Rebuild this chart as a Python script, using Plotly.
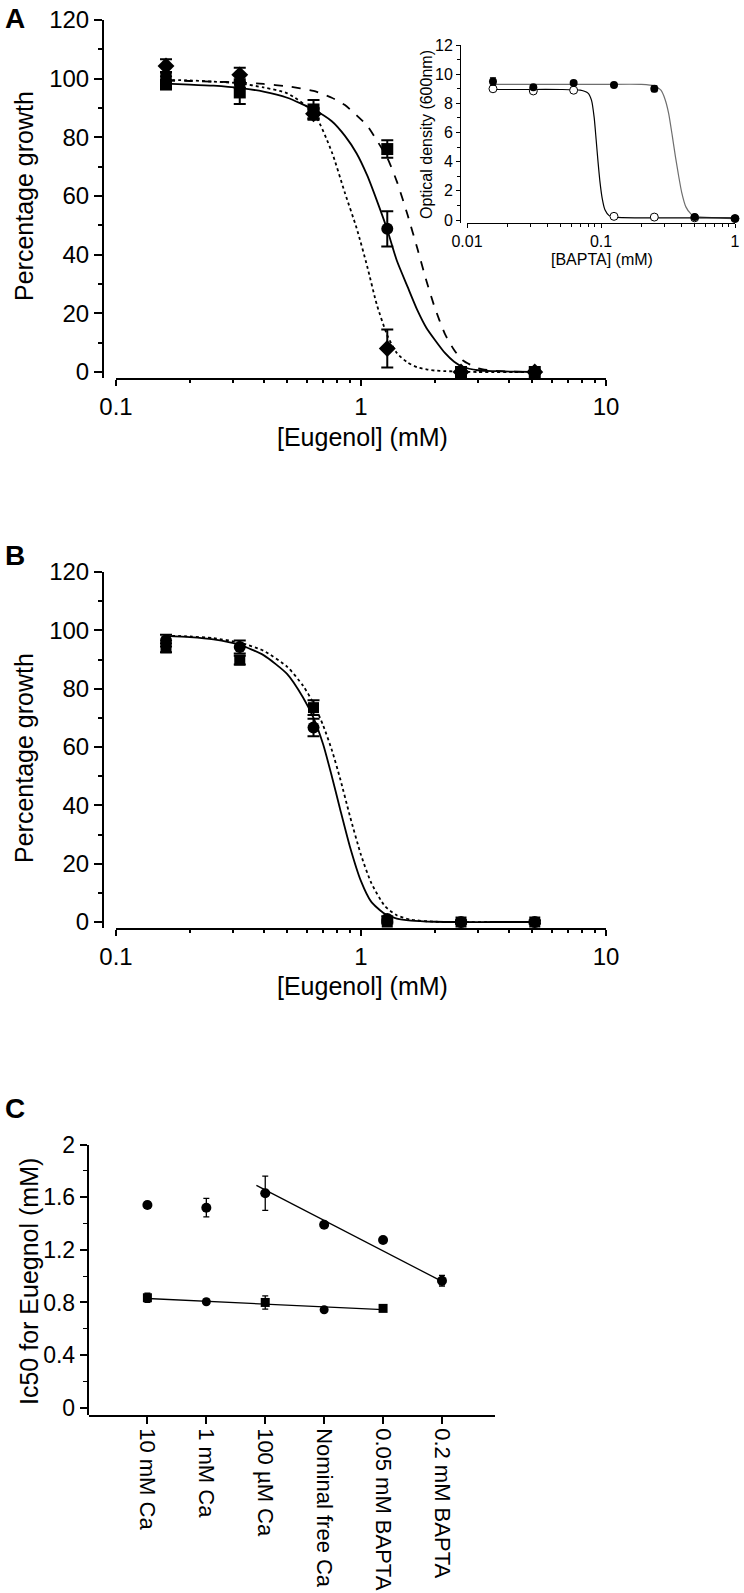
import plotly.graph_objects as go

W, H = 744, 1593
def px(x): return x / W
def py(y): return 1 - y / H

FONT = "Liberation Sans, Arial, sans-serif"

# ---------------- Panel A (main) ----------------
eug_conc = [0.16, 0.32, 0.64, 1.28, 2.56, 5.12]
a_square = [98.0, 95.3, 89.5, 76.0, 0.0, 0.0]
a_square_err = [1.5, 3.9, 3.2, 3.0, 0.5, 0.5]
a_circle = [100.8, 98.3, 88.0, 48.8, 0.0, 0.0]
a_circle_err = [1.5, 1.5, 2.0, 6.0, 0.3, 0.3]
a_diamond = [104.3, 101.3, 88.0, 8.0, 0.0, 0.0]
a_diamond_err = [2.3, 2.4, 1.5, 6.5, 0.3, 0.3]

a_fit_x = [0.16, 0.2, 0.25, 0.32, 0.4, 0.5, 0.64, 0.76, 0.86, 0.96, 1.06, 1.16,
           1.28, 1.4, 1.55, 1.7, 1.85, 2.0, 2.2, 2.4, 2.6, 3.0, 3.5, 4.2, 5.12]
a_fit_solid = [98.3, 98.0, 97.6, 96.8, 95.6, 93.5, 89.5, 85.5, 80.5, 74.5, 67.0, 58.5,
               48.5, 38.0, 29.0, 21.0, 15.0, 11.0, 6.5, 3.5, 1.8, 0.6, 0.3, 0.1, 0.0]
a_fit_dashed = [99.3, 99.2, 99.0, 98.7, 98.2, 97.4, 95.8, 93.5, 91.0, 87.5, 84.0, 79.0,
                73.0, 65.0, 53.5, 42.0, 31.0, 22.0, 13.0, 7.5, 4.0, 1.3, 0.4, 0.1, 0.0]
a_fit_dotted = [99.6, 99.4, 99.0, 98.4, 97.0, 95.0, 88.5, 75.0, 61.0, 49.0, 36.0, 23.0,
                12.5, 6.5, 3.2, 1.6, 0.9, 0.5, 0.3, 0.2, 0.1, 0.0, 0.0, 0.0, 0.0]

# ---------------- Panel A (inset) ----------------
bapta_conc = [0.015625, 0.03125, 0.0625, 0.125, 0.25, 0.5, 1.0]
od_filled = [9.5, 9.1, 9.4, 9.25, 9.0, 0.2, 0.1]
od_filled_err = [0.25, 0.1, 0.1, 0.1, 0.2, 0.05, 0.05]
od_open = [9.0, 8.85, 8.9, 0.25, 0.2, 0.15, 0.1]

inset_open_fit_x = [0.0156, 0.03, 0.05, 0.07, 0.08, 0.085, 0.089, 0.092, 0.095, 0.098,
                    0.102, 0.107, 0.115, 0.125, 0.2, 0.5, 1.0]
inset_open_fit_y = [8.95, 8.95, 8.95, 8.9, 8.7, 8.2, 7.0, 5.5, 4.0, 2.7,
                    1.5, 0.7, 0.3, 0.2, 0.15, 0.15, 0.15]
inset_filled_fit_x = [0.0156, 0.05, 0.1, 0.2, 0.25, 0.28, 0.3, 0.32, 0.34, 0.36,
                      0.38, 0.4, 0.43, 0.47, 0.5, 1.0]
inset_filled_fit_y = [9.3, 9.3, 9.3, 9.3, 9.2, 8.9, 8.3, 7.3, 5.8, 4.3,
                      3.0, 1.9, 0.9, 0.4, 0.25, 0.1]

# ---------------- Panel B ----------------
b_circle = [96.5, 94.3, 66.7, 1.0, 0.0, 0.0]
b_circle_err = [2.0, 2.2, 3.0, 1.0, 0.5, 0.5]
b_square = [94.0, 89.8, 73.5, 0.0, 0.0, 0.0]
b_square_err = [1.5, 1.5, 2.5, 0.5, 0.5, 0.5]

b_fit_x = [0.16, 0.2, 0.25, 0.32, 0.4, 0.5, 0.58, 0.64, 0.7, 0.76, 0.82, 0.9,
           1.0, 1.1, 1.25, 1.4, 1.6, 2.0, 2.56, 3.5, 5.12]
b_fit_solid = [98.1, 97.7, 96.9, 95.0, 91.5, 85.0, 77.0, 70.0, 61.0, 50.0, 39.0, 26.0,
               14.0, 7.0, 2.8, 1.2, 0.5, 0.1, 0.0, 0.0, 0.0]
b_fit_dotted = [98.2, 97.9, 97.3, 95.8, 93.0, 87.5, 81.0, 75.0, 67.5, 59.0, 49.5, 36.5,
                23.0, 13.5, 5.5, 2.3, 0.8, 0.1, 0.0, 0.0, 0.0]

# ---------------- Panel C ----------------
categories = ["10 mM Ca", "1 mM Ca", "100 µM Ca", "Nominal free Ca",
              "0.05 mM BAPTA", "0.2 mM BAPTA"]
c_high = [1.54, 1.52, 1.63, 1.39, 1.275, 0.965]
c_high_err = [0.025, 0.07, 0.13, 0.02, 0.02, 0.04]
c_low = [0.835, 0.805, 0.80, 0.745, 0.755]
c_low_err = [0.035, 0.02, 0.05, 0.015, 0.01]
c_low_symbols = ["square", "circle", "square", "circle", "square"]
c_high_fit_x = [1.85, 5.0]
c_high_fit_y = [1.69, 0.96]
c_low_fit_x = [0.0, 4.0]
c_low_fit_y = [0.83, 0.745]

cat_pos = list(range(len(categories)))

fig = go.Figure()

def err(arr, thick=2, width=6, color="black"):
    return dict(type="data", array=arr, visible=True, thickness=thick, width=width, color=color)

# Panel A curves
fig.add_trace(go.Scatter(x=a_fit_x, y=a_fit_dotted, mode="lines", line=dict(color="black", width=1.8, dash="dot", shape="spline", smoothing=0.6), xaxis="x", yaxis="y"))
fig.add_trace(go.Scatter(x=a_fit_x, y=a_fit_solid, mode="lines", line=dict(color="black", width=1.8, shape="spline", smoothing=0.6), xaxis="x", yaxis="y"))
fig.add_trace(go.Scatter(x=a_fit_x, y=a_fit_dashed, mode="lines", line=dict(color="black", width=1.8, dash="dash", shape="spline", smoothing=0.6), xaxis="x", yaxis="y"))
# Panel A markers
fig.add_trace(go.Scatter(x=eug_conc, y=a_diamond, mode="markers", marker=dict(symbol="diamond", size=13, color="black"), error_y=err(a_diamond_err), xaxis="x", yaxis="y"))
fig.add_trace(go.Scatter(x=eug_conc, y=a_circle, mode="markers", marker=dict(symbol="circle", size=12, color="black"), error_y=err(a_circle_err), xaxis="x", yaxis="y"))
fig.add_trace(go.Scatter(x=eug_conc, y=a_square, mode="markers", marker=dict(symbol="square", size=12, color="black"), error_y=err(a_square_err), xaxis="x", yaxis="y"))

# Inset
fig.add_trace(go.Scatter(x=inset_filled_fit_x, y=inset_filled_fit_y, mode="lines", line=dict(color="#6e6e6e", width=1.2, shape="spline", smoothing=0.5), xaxis="x2", yaxis="y2", cliponaxis=False))
fig.add_trace(go.Scatter(x=inset_open_fit_x, y=inset_open_fit_y, mode="lines", line=dict(color="black", width=1.2, shape="spline", smoothing=0.5), xaxis="x2", yaxis="y2", cliponaxis=False))
fig.add_trace(go.Scatter(x=bapta_conc, y=od_open, mode="markers", marker=dict(symbol="circle", size=8, color="white", line=dict(color="black", width=1)), xaxis="x2", yaxis="y2", cliponaxis=False))
fig.add_trace(go.Scatter(x=bapta_conc, y=od_filled, mode="markers", marker=dict(symbol="circle", size=8, color="black"), error_y=err(od_filled_err, thick=1.2, width=3), xaxis="x2", yaxis="y2", cliponaxis=False))

# Panel B
fig.add_trace(go.Scatter(x=b_fit_x, y=b_fit_dotted, mode="lines", line=dict(color="black", width=1.8, dash="dot", shape="spline", smoothing=0.6), xaxis="x3", yaxis="y3"))
fig.add_trace(go.Scatter(x=b_fit_x, y=b_fit_solid, mode="lines", line=dict(color="black", width=1.8, shape="spline", smoothing=0.6), xaxis="x3", yaxis="y3"))
fig.add_trace(go.Scatter(x=eug_conc, y=b_square, mode="markers", marker=dict(symbol="square", size=11, color="black"), error_y=err(b_square_err), xaxis="x3", yaxis="y3"))
fig.add_trace(go.Scatter(x=eug_conc, y=b_circle, mode="markers", marker=dict(symbol="circle", size=12, color="black"), error_y=err(b_circle_err), xaxis="x3", yaxis="y3"))

# Panel C
fig.add_trace(go.Scatter(x=c_high_fit_x, y=c_high_fit_y, mode="lines", line=dict(color="black", width=1.3), xaxis="x4", yaxis="y4"))
fig.add_trace(go.Scatter(x=c_low_fit_x, y=c_low_fit_y, mode="lines", line=dict(color="black", width=1.3), xaxis="x4", yaxis="y4"))
fig.add_trace(go.Scatter(x=cat_pos, y=c_high, mode="markers", marker=dict(symbol="circle", size=10, color="black"), error_y=err(c_high_err, thick=1.3, width=3), xaxis="x4", yaxis="y4"))
fig.add_trace(go.Scatter(x=cat_pos[:len(c_low)], y=c_low, mode="markers", marker=dict(symbol=c_low_symbols, size=9, color="black"), error_y=err(c_low_err, thick=1.3, width=3), xaxis="x4", yaxis="y4"))

minor_log_main = [v * 0.1 for v in range(2, 10)] + [float(v) for v in range(2, 10)]
minor_log_inset = [v * 0.01 for v in range(2, 10)] + [v * 0.1 for v in range(2, 10)]

def xlog(domain, rng, tv, tt, anchor, lw, tl, size, minor_vals):
    return dict(type="log", range=rng, domain=domain, anchor=anchor, showline=True, linewidth=lw,
                linecolor="black", ticks="outside", ticklen=tl, tickwidth=lw, tickcolor="black",
                tickvals=tv, ticktext=tt, showgrid=False, zeroline=False,
                tickfont=dict(size=size, family=FONT, color="black"), automargin=False,
                minor=dict(ticks="outside", ticklen=max(3, tl // 2), tickwidth=max(1, lw * 0.75), tickcolor="black", tickvals=minor_vals, showgrid=False))

def ylin(domain, rng, pos, tv, minor_d, lw, tl, size):
    return dict(range=rng, domain=domain, anchor="free", position=pos, showline=True, linewidth=lw,
                linecolor="black", ticks="outside", ticklen=tl, tickwidth=lw, tickcolor="black",
                tickvals=tv, showgrid=False, zeroline=False,
                tickfont=dict(size=size, family=FONT, color="black"), automargin=False,
                minor=dict(ticks="outside", ticklen=max(3, tl // 2), tickwidth=max(1, lw * 0.75), tickcolor="black", dtick=minor_d, showgrid=False))

fig.update_layout(
    width=W, height=H, margin=dict(l=0, r=0, t=0, b=0), autosize=False,
    paper_bgcolor="white", plot_bgcolor="white", showlegend=False,
    font=dict(family=FONT, color="black"),
    xaxis=xlog([px(116), px(606)], [-1, 1], [0.1, 1, 10], ["0.1", "1", "10"], "y", 2, 6, 24, minor_log_main),
    yaxis=ylin([py(378), py(20)], [-2.045, 120], px(103), [0, 20, 40, 60, 80, 100, 120], 10, 2, 8, 24),
    xaxis2=xlog([px(467), px(735)], [-2, 0], [0.01, 0.1, 1], ["0.01", "0.1", "1"], "y2", 1, 4, 16, minor_log_inset),
    yaxis2=ylin([py(223), py(45)], [-0.206, 12], px(460), [0, 2, 4, 6, 8, 10, 12], 1, 1, 4, 16),
    xaxis3=xlog([px(116), px(606)], [-1, 1], [0.1, 1, 10], ["0.1", "1", "10"], "y3", 2, 6, 24, minor_log_main),
    yaxis3=ylin([py(928), py(572)], [-2.05, 120], px(103), [0, 20, 40, 60, 80, 100, 120], 10, 2, 8, 24),
    xaxis4=dict(range=[-1, 5.9], domain=[px(88.5), px(495)], anchor="y4", showline=True, linewidth=1.5,
                linecolor="black", ticks="outside", ticklen=7, tickwidth=1.5, tickcolor="black",
                tickvals=cat_pos, ticktext=categories, tickangle=90, showgrid=False, zeroline=False,
                tickfont=dict(size=22, family=FONT, color="black"), automargin=False),
    yaxis4=dict(range=[-0.055, 2], domain=[py(1415), py(1144.5)], anchor="free", position=px(87.5),
                showline=True, linewidth=1.5, linecolor="black", ticks="outside", ticklen=7,
                tickwidth=1.5, tickcolor="black", tickvals=[0, 0.4, 0.8, 1.2, 1.6, 2],
                ticktext=["0", "0.4", "0.8", "1.2", "1.6", "2"], showgrid=False, zeroline=False,
                tickfont=dict(size=23, family=FONT, color="black"), automargin=False,
                minor=dict(ticks="outside", ticklen=4, tickwidth=1, tickcolor="black", dtick=0.2, showgrid=False)),
)

def ann(text, x, y, size, angle=0, bold=False):
    fig.add_annotation(text=f"<b>{text}</b>" if bold else text, x=px(x), y=py(y), xref="paper", yref="paper",
                       showarrow=False, textangle=angle, xanchor="center", yanchor="middle",
                       font=dict(size=size, family=FONT, color="black"))

ann("A", 15, 18, 28, bold=True)
ann("B", 15, 555, 28, bold=True)
ann("C", 15, 1108, 28, bold=True)
ann("Percentage growth", 24, 196, 25, -90)
ann("[Eugenol] (mM)", 362, 437, 25)
ann("Optical density (600nm)", 426, 135, 16, -90)
ann("[BAPTA] (mM)", 602, 259, 16)
ann("Percentage growth", 24, 758, 25, -90)
ann("[Eugenol] (mM)", 362, 986, 25)
ann("Ic50 for Euegnol (mM)", 29, 1282, 25, -90)

fig.write_html("out.html", config={"displayModeBar": False},
               post_script="document.body.style.margin='0px';document.body.style.padding='0px';")
